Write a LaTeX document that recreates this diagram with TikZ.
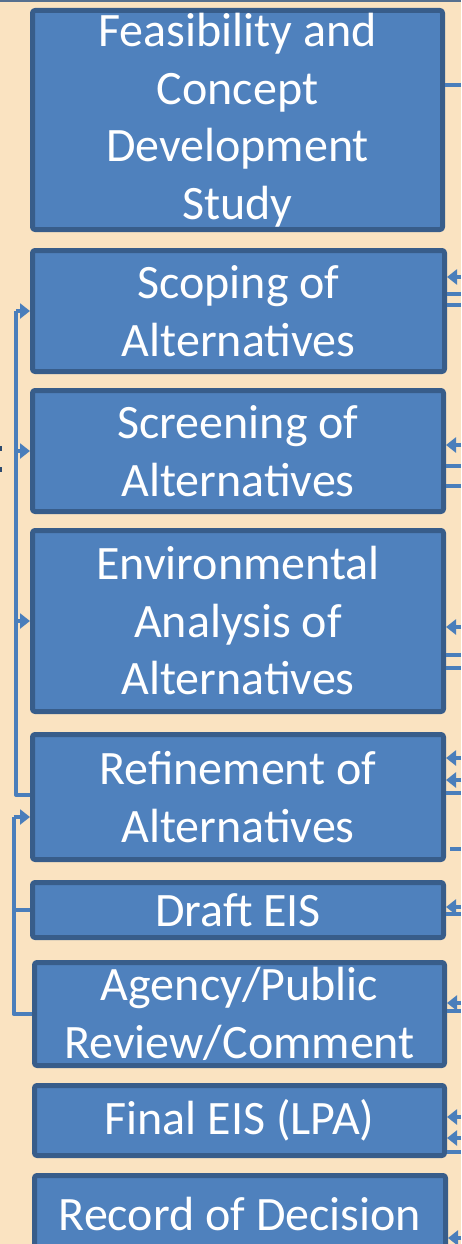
\documentclass[tikz,border=0pt]{standalone}
\usepackage{fontspec}
\newfontfamily\stagefont{Carlito}
\usetikzlibrary{arrows.meta}
\definecolor{paper}{HTML}{FAE3C1}
\definecolor{boxfill}{HTML}{4F81BD}
\definecolor{boxedge}{HTML}{385D8A}
\definecolor{wire}{HTML}{4A7EBB}
\definecolor{topbar}{HTML}{56708F}
\tikzset{
  stage/.style={draw=boxedge, fill=boxfill, line width=5pt, rounded corners=2.5pt,
    text=white, align=center, inner sep=0pt,
    font=\stagefont\fontsize{48}{57.5}\selectfont},
  link/.style={draw=wire, line width=4pt},
  feed/.style={link, -{Triangle[length=10pt, width=15pt]}}
}
\begin{document}
\begin{tikzpicture}[x=1pt, y=-1pt, line join=round]
	\useasboundingbox (0,0) rectangle (461,1244);
	\fill[paper] (0,0) rectangle (461,1244);
	\fill[topbar] (0,0) rectangle (461,2);
	\fill[boxedge!80!black] (0,446) rectangle (2,451);
	\fill[boxedge!80!black] (0,467) rectangle (2,472);
	
	\node[stage, minimum width=410pt, minimum height=219pt] (feas) at (237.5,120) {Feasibility and\\Concept\\Development\\Study};
	\node[stage, minimum width=412pt, minimum height=121pt] (scop) at (238.5,311) {Scoping of\\Alternatives};
	\node[stage, minimum width=411pt, minimum height=121pt] (scre) at (238,451) {Screening of\\Alternatives};
	\node[stage, minimum width=411pt, minimum height=181pt] (env) at (238,621) {Environmental\\Analysis of\\Alternatives};
	\node[stage, minimum width=411pt, minimum height=125pt] (ref) at (238,797) {Refinement of\\Alternatives};
	\node[stage, minimum width=411pt, minimum height=55pt] (draft) at (238,910) {Draft EIS};
	\node[stage, minimum width=410pt, minimum height=103pt] (agency) at (239.5,1014) {Agency/Public\\Review/Comment};
	\node[stage, minimum width=410pt, minimum height=70pt] (final) at (239.5,1120.5) {Final EIS (LPA)};
	\node[stage, minimum width=411pt, minimum height=77pt] (record) at (240,1214) {Record of Decision};
	
	% loops on the left
	\coordinate (busA) at (16,0);
	\coordinate (busB) at (13.5,817);
	\draw[link] ([yshift=2pt]ref.west) -| (busA |- scop.west);
	\draw[feed] (busA |- scop.west) -- (scop.west);
	\draw[feed] (busA |- scre.west) -- (scre.west);
	\draw[feed] (busA |- env.west) -- (env.west);
	\draw[link] (agency.west) -| (busB);
	\draw[feed] (busB) -- (busB -| ref.west);
	\draw[link] (draft.west) -- (busB |- draft.west);
	
	% stubs on the right
	\foreach \b/\y in {feas/85, scop/294, scop/305, scre/466, scre/486, env/655, env/668,
	                   ref/793, draft/914, agency/1011, final/1152}{
		\coordinate (out) at (461,\y);
		\draw[link] (out -| \b.east) -- (out);
	}
	\foreach \b/\y in {scop/277, scre/445, env/627, ref/758, ref/780, draft/907,
	                   agency/1003, final/1117, final/1138, record/1238}{
		\coordinate (in) at (461,\y);
		\draw[feed] (in) -- (in -| \b.east);
	}
	\coordinate (gapL) at (450,849);
	\coordinate (gapR) at (461,849);
	\draw[link] (gapL) -- (gapR);
\end{tikzpicture}
\end{document}
